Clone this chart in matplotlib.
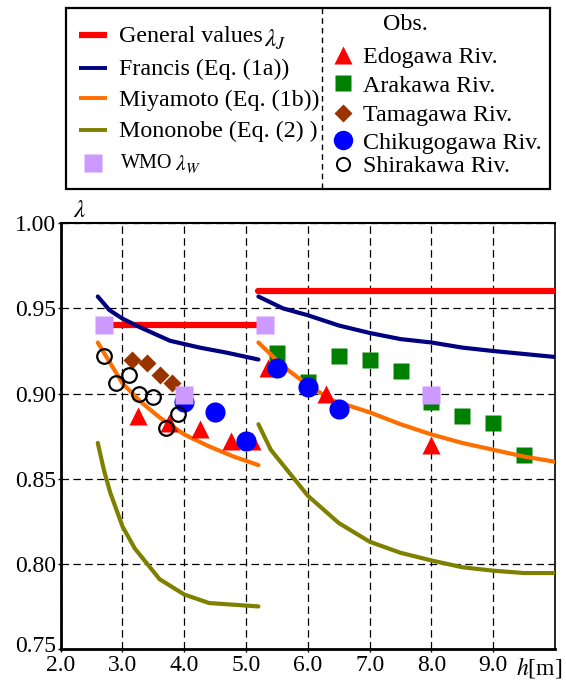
import numpy as np
import matplotlib
matplotlib.use("Agg")
import matplotlib.pyplot as plt
import matplotlib.transforms as mtrans
from matplotlib.patches import Rectangle

plt.rcParams['font.family'] = 'serif'
plt.rcParams['font.serif'] = ['Liberation Serif', 'Times New Roman', 'DejaVu Serif']
plt.rcParams['mathtext.fontset'] = 'stix'

# General values lambda_J (two ranges)
general_x1 = [2.7, 5.3]
general_y1 = [0.94, 0.94]
general_x2 = [5.2, 10.0]
general_y2 = [0.96, 0.96]

# Francis (Eq. (1a))
francis_x1 = [2.6, 2.79, 3.0, 3.28, 3.77, 4.25, 4.69, 5.2]
francis_y1 = [0.957, 0.949, 0.944, 0.939, 0.931, 0.927, 0.924, 0.920]
francis_x2 = [5.2, 5.6, 6.0, 6.5, 7.0, 7.5, 8.0, 8.5, 9.0, 10.0]
francis_y2 = [0.957, 0.950, 0.946, 0.940, 0.9356, 0.932, 0.930, 0.927, 0.925, 0.9215]

# Miyamoto (Eq. (1b))
miyamoto_x1 = [2.6, 2.8, 3.0, 3.3, 3.6, 4.0, 4.4, 4.8, 5.2]
miyamoto_y1 = [0.930, 0.918, 0.906, 0.895, 0.886, 0.876, 0.869, 0.863, 0.858]
miyamoto_x2 = [5.2, 5.6, 6.0, 6.4, 7.0, 7.5, 8.0, 8.5, 9.0, 9.5, 10.0]
miyamoto_y2 = [0.930, 0.916, 0.905, 0.896, 0.889, 0.882, 0.876, 0.871, 0.867, 0.863, 0.860]

# Mononobe (Eq. (2))
mononobe_x1 = [2.6, 2.7, 2.8, 3.0, 3.2, 3.6, 4.0, 4.4, 4.8, 5.2]
mononobe_y1 = [0.871, 0.855, 0.842, 0.822, 0.809, 0.791, 0.782, 0.777, 0.776, 0.775]
mononobe_x2 = [5.2, 5.4, 6.0, 6.5, 7.0, 7.5, 8.0, 8.5, 9.0, 9.5, 10.0]
mononobe_y2 = [0.882, 0.867, 0.840, 0.824, 0.813, 0.8065, 0.802, 0.798, 0.796, 0.7946, 0.7946]

# WMO lambda_W
wmo_x = [2.7, 4.0, 5.3, 8.0]
wmo_y = [0.94, 0.899, 0.94, 0.899]

# observations
edogawa_x = [3.25, 3.75, 4.25, 4.75, 5.1, 5.35, 6.3, 8.0]
edogawa_y = [0.887, 0.883, 0.879, 0.872, 0.872, 0.915, 0.900, 0.870]
arakawa_x = [5.5, 6.0, 6.5, 7.0, 7.5, 8.0, 8.5, 9.0, 9.5]
arakawa_y = [0.924, 0.907, 0.922, 0.920, 0.913, 0.895, 0.887, 0.883, 0.864]
tamagawa_x = [3.15, 3.4, 3.6, 3.8]
tamagawa_y = [0.920, 0.918, 0.911, 0.906]
chikugo_x = [4.0, 4.5, 5.0, 5.5, 6.0, 6.5]
chikugo_y = [0.895, 0.889, 0.872, 0.915, 0.904, 0.891]
shirakawa_x = [2.7, 2.9, 3.1, 3.27, 3.5, 3.7, 3.9]
shirakawa_y = [0.922, 0.906, 0.911, 0.900, 0.898, 0.880, 0.888]

x_ticks = [2, 3, 4, 5, 6, 7, 8, 9]
x_ticklabels = ["2.0", "3.0", "4.0", "5.0", "6.0", "7.0", "8.0", "9.0"]
y_ticks = [0.75, 0.80, 0.85, 0.90, 0.95, 1.00]
y_ticklabels = ["0.75", "0.80", "0.85", "0.90", "0.95", "1.00"]

RED = "#ff0000"
NAVY = "#000080"
ORANGE = "#ff6f00"
OLIVE = "#808000"
GREEN = "#008000"
BROWN = "#993300"
BLUE = "#0000ff"
LAV = "#cc99ff"

W, H = 566, 680
fig = plt.figure(figsize=(W / 100, H / 100), dpi=100)
ax = fig.add_axes([60.7 / W, 1 - 649 / H, (555 - 60.7) / W, (649 - 223.3) / H])

# curves
ax.plot(general_x1, general_y1, color=RED, lw=4.5, solid_capstyle="round", zorder=3)
ax.plot(general_x2, general_y2, color=RED, lw=4.5, solid_capstyle="round", zorder=3)
for xs, ys, c in [(francis_x1, francis_y1, NAVY), (francis_x2, francis_y2, NAVY),
                  (mononobe_x1, mononobe_y1, OLIVE), (mononobe_x2, mononobe_y2, OLIVE)]:
    ax.plot(xs, ys, color=c, lw=3, solid_capstyle="round", zorder=3)

ax.plot(arakawa_x, arakawa_y, "s", color=GREEN, ms=11.5, mec="none", zorder=4)
for xs, ys in [(miyamoto_x1, miyamoto_y1), (miyamoto_x2, miyamoto_y2)]:
    ax.plot(xs, ys, color=ORANGE, lw=3, solid_capstyle="round", zorder=5)
ax.plot(edogawa_x, edogawa_y, "^", color=RED, ms=13, mec="none", zorder=6)
ax.plot(tamagawa_x, tamagawa_y, "D", color=BROWN, ms=9, mec="none", zorder=6)
ax.plot(chikugo_x, chikugo_y, "o", color=BLUE, ms=14.5, mec="none", zorder=7)
ax.plot(shirakawa_x, shirakawa_y, "o", mfc="none", mec="black", mew=1.6, ms=10.5, zorder=8)
ax.plot(wmo_x, wmo_y, "s", color=LAV, ms=13, mec="none", zorder=9)

ax.set_xlim(2.0, 10.0)
ax.set_ylim(0.75, 1.00)
ax.set_xticks(x_ticks)
ax.set_xticklabels(x_ticklabels, fontsize=17)
ax.set_yticks(y_ticks)
ax.set_yticklabels(y_ticklabels, fontsize=17)
ax.tick_params(length=2.5, width=1, pad=1.5)
ax.tick_params(axis="y", pad=0.5)
# lift the lowest y label a little, as in the original
lab0 = ax.get_yticklabels()[0]
lab0.set_transform(lab0.get_transform() + mtrans.ScaledTranslation(0, 5 / 100, fig.dpi_scale_trans))
ax.grid(True, color="black", lw=0.9, ls=(0, (6, 3.5)))
ax.set_axisbelow(True)

ax.spines["left"].set_linewidth(2)
ax.spines["bottom"].set_linewidth(2)
ax.spines["top"].set_linewidth(1.5)
ax.spines["right"].set_linewidth(1.2)

ax.text(9.75, -0.014, r"$h$[m]", transform=ax.get_xaxis_transform(), ha="center",
        va="top", fontsize=17)
ax.text(2.31, 1.0035, r"$\lambda$", ha="center", va="baseline", fontsize=18)

# legend panel drawn in pixel coordinates
lax = fig.add_axes([0, 0, 1, 1])
lax.set_xlim(0, W)
lax.set_ylim(H, 0)
lax.axis("off")
lax.add_patch(Rectangle((66, 8.3), 484, 180.7, fill=False, ec="black", lw=1.6))
lax.plot([321.7, 321.7], [8.3, 189], color="black", lw=1, ls=(0, (4, 3)))

fs = 17.3
left_names = ["General values", "Francis (Eq. (1a))", "Miyamoto (Eq. (1b))", "Mononobe (Eq. (2) )"]
left_colors = [RED, NAVY, ORANGE, OLIVE]
left_widths = [4.5, 2.8, 2.8, 2.8]
left_rows = [35, 68, 98.3, 130]
for name, c, lw, yr in zip(left_names, left_colors, left_widths, left_rows):
    lax.plot([79, 107], [yr, yr], color=c, lw=lw, solid_capstyle="butt")
    lax.text(119, yr + 7.5, name, fontsize=fs, va="baseline", ha="left")
lax.text(264, 47, r"$\lambda_J$", fontsize=fs + 1, va="baseline", ha="left")
lax.plot([93], [162.5], "s", color=LAV, ms=12.5, mec="none")
lax.text(121, 168.5, "WMO", fontsize=14.5, va="baseline", ha="left")
lax.text(175, 170, r"$\lambda_W$", fontsize=15.5, va="baseline", ha="left")

lax.text(405, 30, "Obs.", fontsize=fs, va="baseline", ha="center")
obs_names = ["Edogawa Riv.", "Arakawa Riv.", "Tamagawa Riv.", "Chikugogawa Riv.", "Shirakawa Riv."]
obs_rows = [55, 83, 113, 140, 164]
obs_styles = [dict(marker="^", color=RED, ms=13, mec="none"),
              dict(marker="s", color=GREEN, ms=11, mec="none"),
              dict(marker="D", color=BROWN, ms=9, mec="none"),
              dict(marker="o", color=BLUE, ms=14, mec="none"),
              dict(marker="o", mfc="none", mec="black", mew=1.4, ms=9.5)]
for name, yr, st in zip(obs_names, obs_rows, obs_styles):
    lax.plot([343], [yr], ls="none", **st)
    lax.text(363, yr + 8.5, name, fontsize=fs, va="baseline", ha="left")

fig.savefig("out.png", dpi=100)
